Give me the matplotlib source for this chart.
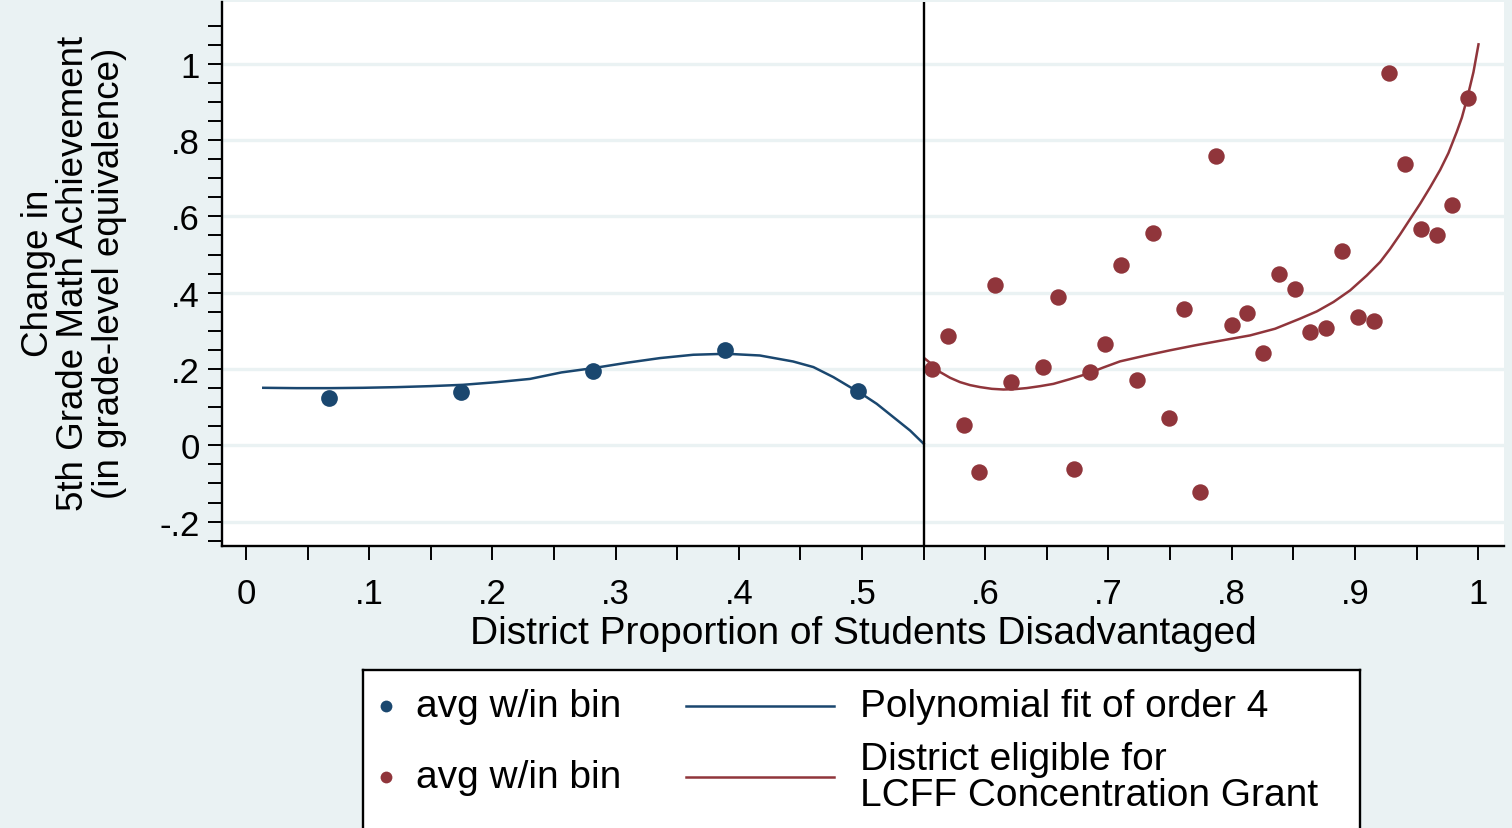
import numpy as np
import matplotlib
matplotlib.use("Agg")
import matplotlib.pyplot as plt
from matplotlib.ticker import MultipleLocator, FixedLocator

plt.rcParams['font.family'] = ['Liberation Sans', 'DejaVu Sans']

# Bin averages below the cutoff
left_x = [0.0674, 0.1745, 0.2818, 0.3891, 0.4964]
left_y = [0.124, 0.139, 0.194, 0.249, 0.141]

# Bin averages above the cutoff
right_x = [0.5568, 0.5695, 0.5825, 0.5951, 0.6078, 0.6209, 0.6465, 0.6592,
           0.6722, 0.6848, 0.6975, 0.7105, 0.7231, 0.7361, 0.7488, 0.7615,
           0.7745, 0.7872, 0.8002, 0.8128, 0.8258, 0.8385, 0.8511, 0.8638,
           0.8768, 0.8894, 0.9022, 0.9152, 0.9278, 0.9408, 0.9535, 0.9665,
           0.9791, 0.9918]
right_y = [0.201, 0.287, 0.053, -0.071, 0.419, 0.167, 0.206, 0.388,
           -0.062, 0.191, 0.265, 0.473, 0.171, 0.556, 0.071, 0.357,
           -0.122, 0.759, 0.316, 0.347, 0.241, 0.449, 0.410, 0.298,
           0.308, 0.510, 0.336, 0.326, 0.975, 0.738, 0.567, 0.552,
           0.630, 0.911]

# Fitted curves (order-4 polynomial) on each side
fit_left_x = [0.014, 0.041, 0.068, 0.095, 0.122, 0.149, 0.176, 0.2035,
              0.2305, 0.256, 0.282, 0.309, 0.336, 0.363, 0.390, 0.417,
              0.444, 0.4605, 0.4767, 0.4903, 0.4984, 0.5119, 0.5254, 0.539,
              0.550]
fit_left_y = [0.1507, 0.1498, 0.1498, 0.1507, 0.1524, 0.155, 0.1585, 0.1655,
              0.174, 0.191, 0.2024, 0.2163, 0.2286, 0.2373, 0.2399, 0.2354,
              0.2197, 0.205, 0.1787, 0.1525, 0.1375, 0.1087, 0.0738, 0.0386,
              0.004]

fit_right_x = [0.5511, 0.5579, 0.5633, 0.5714, 0.5795, 0.5877, 0.5958, 0.6053,
               0.6147, 0.6242, 0.6337, 0.6445, 0.6553, 0.6688, 0.6824, 0.6959,
               0.7094, 0.7297, 0.750, 0.7703, 0.7906, 0.8149, 0.8352, 0.8555,
               0.8691, 0.8826, 0.8961, 0.9097, 0.9205, 0.9286, 0.9367, 0.9448,
               0.9529, 0.9610, 0.9692, 0.9759, 0.9827, 0.9868, 0.9913, 0.9962,
               1.0003]
fit_right_y = [0.2268, 0.209, 0.192, 0.177, 0.1656, 0.1577, 0.1525, 0.148,
               0.1462, 0.1472, 0.150, 0.155, 0.161, 0.1735, 0.187, 0.204,
               0.220, 0.235, 0.249, 0.262, 0.274, 0.288, 0.3055, 0.332,
               0.351, 0.3756, 0.406, 0.4454, 0.4806, 0.515, 0.553, 0.593,
               0.633, 0.676, 0.722, 0.766, 0.822, 0.859, 0.912, 0.978,
               1.051]

cutoff = 0.55

x_ticks = [0, 0.1, 0.2, 0.3, 0.4, 0.5, 0.6, 0.7, 0.8, 0.9, 1.0]
x_labels = ['0', '.1', '.2', '.3', '.4', '.5', '.6', '.7', '.8', '.9', '1']
y_ticks = [-0.2, 0, 0.2, 0.4, 0.6, 0.8, 1.0]
y_labels = ['-.2', '0', '.2', '.4', '.6', '.8', '1']

bg = '#EAF2F3'
navy = '#1A476F'
maroon = '#90353B'

W, H = 1512, 829
fig = plt.figure(figsize=(W / 100, H / 100), dpi=100)
fig.patch.set_facecolor(bg)

ax = fig.add_axes([222 / W, 1 - 547 / H, (1504 - 222) / W, (547 - 3) / H])
ax.set_facecolor('white')

ax.scatter(left_x, left_y, s=145, color=navy, zorder=3, linewidths=0)
ax.scatter(right_x, right_y, s=140, color=maroon, zorder=3, linewidths=0)
ax.plot(fit_left_x, fit_left_y, color=navy, lw=1.8, zorder=2,
        solid_joinstyle='round')
ax.plot(fit_right_x, fit_right_y, color=maroon, lw=1.8, zorder=2,
        solid_joinstyle='round')
ax.axvline(cutoff, color='black', lw=1.7, zorder=4)

ax.set_xlim(-0.0195, 1.021)
ax.set_ylim(-0.264, 1.162)

ax.xaxis.set_major_locator(FixedLocator(x_ticks))
ax.set_xticklabels(x_labels)
ax.xaxis.set_minor_locator(MultipleLocator(0.05))
ax.yaxis.set_major_locator(FixedLocator(y_ticks))
ax.set_yticklabels(y_labels)
ax.yaxis.set_minor_locator(FixedLocator(np.arange(-0.25, 1.11, 0.05)))

ax.tick_params(which='both', direction='out', length=10, width=1.4,
               color='black', labelsize=25)
ax.tick_params(axis='x', which='major', pad=12)
ax.tick_params(axis='y', which='major', pad=6)

ax.grid(axis='y', which='major', color=bg, lw=2.4, zorder=0)
ax.set_axisbelow(True)

for side in ['top', 'right']:
    ax.spines[side].set_visible(False)
for side in ['left', 'bottom']:
    ax.spines[side].set_linewidth(1.7)
    ax.spines[side].set_color('black')

ax.set_xlabel('District Proportion of Students Disadvantaged', fontsize=28,
              labelpad=4)
fig.text(74 / W, 1 - 273 / H,
         'Change in\n5th Grade Math Achievement\n(in grade-level equivalence)',
         rotation=90, ha='center', va='center', multialignment='center',
         fontsize=26.5, linespacing=1.03)

# Legend box drawn in pixel-like coordinates
lg = fig.add_axes([363 / W, 1 - 850 / H, (1360 - 363) / W, (850 - 671) / H])
lg.set_xlim(363, 1360)
lg.set_ylim(850, 671)
lg.set_xticks([])
lg.set_yticks([])
for sp in lg.spines.values():
    sp.set_linewidth(1.7)
    sp.set_color('black')

rows = [(707, navy, 'Polynomial fit of order 4'),
        (778, maroon, 'District eligible for\nLCFF Concentration Grant')]
for yy, col, txt in rows:
    lg.plot([386], [yy], 'o', color=col, ms=8.5, mew=0)
    lg.text(416, yy, 'avg w/in bin', fontsize=28, va='center', ha='left')
    lg.plot([686, 834], [yy, yy], color=col, lw=1.8)
    lg.text(860, yy, txt, fontsize=28, va='center', ha='left',
            linespacing=1.0)

fig.savefig('out.png', dpi=100, facecolor=fig.get_facecolor())
